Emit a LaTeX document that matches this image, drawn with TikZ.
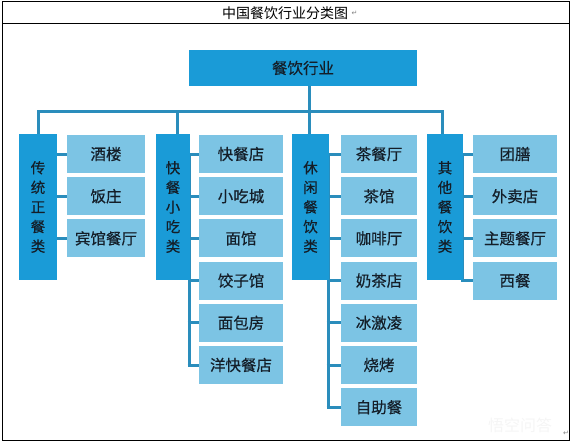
\documentclass[tikz,border=0pt]{standalone}
\usepackage{fontspec}
\usetikzlibrary{backgrounds}
\setmainfont{Noto Sans CJK SC}
\newfontfamily\cjk{Noto Sans CJK SC}
\newfontfamily\cjkb[FakeBold=0.4]{Noto Sans CJK SC}
\newfontfamily\symf{DejaVu Sans}
\definecolor{topblue}{HTML}{1A9BD7}
\definecolor{leafblue}{HTML}{7CC4E4}
\definecolor{linkblue}{HTML}{2A8DBC}
\definecolor{txt}{HTML}{141E28}
\begin{document}
\begin{tikzpicture}[x=1pt,y=-1pt,
  topbox/.style={draw=none,fill=topblue,minimum width=228pt,minimum height=36pt,inner sep=0pt,font=\cjkb\fontsize{15.5}{16}\selectfont,text=txt},
  catbox/.style={draw=none,fill=topblue,minimum height=146pt,inner sep=0pt,font=\cjkb\fontsize{14.5}{19.6}\selectfont,text=txt,align=center},
  leafbox/.style={draw=none,fill=leafblue,minimum height=38pt,inner sep=0pt,font=\cjkb\fontsize{15.5}{16}\selectfont,text=txt},
  link/.style={draw=linkblue,line width=3pt},
  frame/.style={draw=black,line width=1pt}]
\useasboundingbox (0,0) rectangle (572,444);
% frame and title
\draw[frame] (2,2) rectangle (569,440);
\draw[frame] (2,24) -- (569,24);
\node[font=\cjk\fontsize{14}{15}\selectfont,text=black] (title) at (285,13.5) {中国餐饮行业分类图};
\node[font=\symf\fontsize{7}{8}\selectfont,text=gray,anchor=west,inner sep=0pt] (ret1) at (title.east) {↵};
% watermark
\node[font=\cjk\fontsize{16}{17}\selectfont,text=black!4] (wm) at (520,425) {悟空问答};
\node[font=\symf\fontsize{7}{8}\selectfont,text=gray,inner sep=0pt] (ret2) at (566,433) {↵};

% top node
\node[topbox] (top) at (303,68) {餐饮行业};

% categories
\node[catbox,minimum width=38pt] (c1) at (38,207) {传\\统\\正\\餐\\类};
\node[catbox,minimum width=34pt] (c2) at (173,207) {快\\餐\\小\\吃\\类};
\node[catbox,minimum width=37pt] (c3) at (310.5,207) {休\\闲\\餐\\饮\\类};
\node[catbox,minimum width=36pt] (c4) at (445,207) {其\\他\\餐\\饮\\类};

% bar coordinates
\coordinate (p1) at (38,111);
\coordinate (p2) at (177,111);
\coordinate (p3) at (309,111);
\coordinate (p4) at (442,111);

% group leaves
\foreach \t [count=\i from 0] in {酒楼,饭庄,宾馆餐厅}
  \node[leafbox,minimum width=78pt] (la\i) at (106,154+42.2*\i) {\t};
\foreach \t [count=\i from 0] in {快餐店,小吃城,面馆,饺子馆,面包房,洋快餐店}
  \node[leafbox,minimum width=84pt] (lb\i) at (241,154+42.2*\i) {\t};
\foreach \t [count=\i from 0] in {茶餐厅,茶馆,咖啡厅,奶茶店,冰激凌,烧烤,自助餐}
  \node[leafbox,minimum width=76pt] (lc\i) at (379,154+42.2*\i) {\t};
\foreach \t [count=\i from 0] in {团膳,外卖店,主题餐厅,西餐}
  \node[leafbox,minimum width=84pt] (ld\i) at (515,154+42.2*\i) {\t};

% connectors (behind)
\begin{scope}[on background layer]
\draw[link] (top.south -| p3) -- (p3 |- c3.north);
\draw[link] (p1 |- c1.north) -- (p1) -- (p4) -- (p4 |- c4.north);
\draw[link] (p2) -- (p2 |- c2.north);
% group 1 stubs
\foreach \i in {0,1,2} \draw[link] (c1.east |- la\i.west) -- (la\i.west);
% group 2
\draw[link] ([xshift=-1pt]c2.east |- lb0.west) -- ([xshift=-1pt]c2.east |- lb5.west);
\foreach \i in {0,...,5} \draw[link] ([xshift=-2.5pt]c2.east |- lb\i.west) -- (lb\i.west);
% group 3
\draw[link] ([xshift=-1pt]c3.east |- lc0.west) -- ([xshift=-1pt]c3.east |- lc6.west);
\foreach \i in {0,...,6} \draw[link] ([xshift=-2.5pt]c3.east |- lc\i.west) -- (lc\i.west);
% group 4
\draw[link] ([xshift=-1pt]c4.east |- ld0.west) -- ([xshift=-1pt]c4.east |- ld3.west);
\foreach \i in {0,...,3} \draw[link] ([xshift=-2.5pt]c4.east |- ld\i.west) -- (ld\i.west);
\end{scope}
\end{tikzpicture}
\end{document}
